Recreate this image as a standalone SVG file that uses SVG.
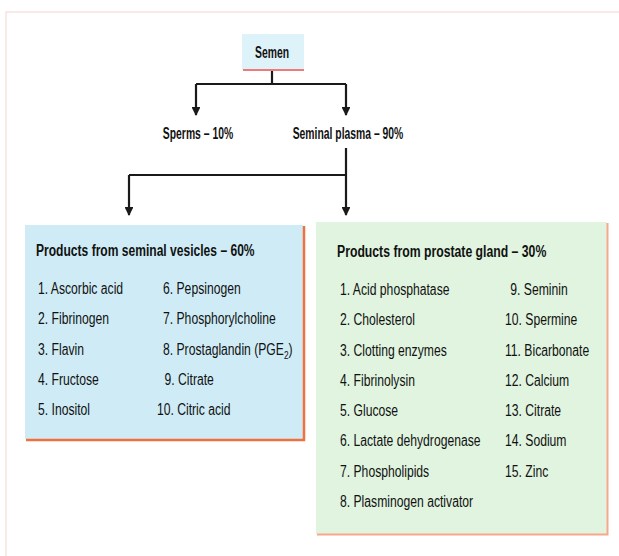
<svg xmlns="http://www.w3.org/2000/svg" width="619" height="556" viewBox="0 0 619 556">
<defs>
<style>
text{font-family:"Liberation Sans",Arial,sans-serif;fill:#111;}
.t{font-weight:bold;font-size:17px;}
.h{font-weight:bold;font-size:17px;}
.i{font-size:16px;}
.c{stroke:#1a1a1a;stroke-width:2.2;fill:none;}
</style>
<marker id="ah" viewBox="0 0 10 10" refX="9" refY="5" markerWidth="4" markerHeight="4" orient="auto" markerUnits="strokeWidth">
<path d="M0,0 L10,5 L0,10 z" fill="#1a1a1a"/>
</marker>
</defs>
<rect width="619" height="556" fill="#fff"/>
<path d="M6,556 V12 H619" fill="none" stroke="#f6e3dc" stroke-width="1.5"/>
<g id="connectors">
<path class="c" d="M272,70 V84"/>
<path class="c" d="M196,84 H346"/>
<path class="c" d="M196,84 V115" marker-end="url(#ah)"/>
<path class="c" d="M346,84 V115" marker-end="url(#ah)"/>
<path class="c" d="M346,148 V215" marker-end="url(#ah)"/>
<path class="c" d="M129,175 H346"/>
<path class="c" d="M129,175 V215" marker-end="url(#ah)"/>
</g>
<g id="semen">
<rect x="242" y="34" width="62" height="36" fill="#def3f9"/>
<line x1="243" y1="70" x2="304" y2="70" stroke="#ef7a7a" stroke-width="2"/>
<text class="h" transform="translate(272,58) scale(0.61,1)" text-anchor="middle">Semen</text>
</g>
<g id="sperms">
<text class="h" transform="translate(198,139) scale(0.61,1)" text-anchor="middle">Sperms – 10%</text>
</g>
<g id="plasma">
<text class="h" transform="translate(348,139) scale(0.61,1)" text-anchor="middle">Seminal plasma – 90%</text>
</g>
<g id="vesicles">
<rect x="25" y="225" width="278" height="214" fill="#cfecf6"/>
<path d="M26,440 H304 V226" fill="none" stroke="#f0703e" stroke-width="2.5"/>
<text class="t" transform="translate(36,256) scale(0.71,1)">Products from seminal vesicles – 60%</text>
<g transform="translate(38,0) scale(0.76,1)">
<text class="i" x="0" y="294">1. Ascorbic acid</text>
<text class="i" x="0" y="324">2. Fibrinogen</text>
<text class="i" x="0" y="355">3. Flavin</text>
<text class="i" x="0" y="385">4. Fructose</text>
<text class="i" x="0" y="415">5. Inositol</text>
</g>
<g transform="translate(163,0) scale(0.76,1)">
<text class="i" x="0" y="294">6. Pepsinogen</text>
<text class="i" x="0" y="324">7. Phosphorylcholine</text>
<text class="i" x="0" y="355">8. Prostaglandin (PGE<tspan font-size="11" dy="4">2</tspan><tspan dy="-4">)</tspan></text>
<text class="i" x="2" y="385">9. Citrate</text>
<text class="i" x="-8" y="415">10. Citric acid</text>
</g>
</g>
<g id="prostate">
<rect x="316" y="222" width="291" height="312" fill="#e0f4df"/>
<path d="M317,534.5 H607.5 V223" fill="none" stroke="#f5a88c" stroke-width="2"/>
<text class="t" transform="translate(337,257) scale(0.72,1)">Products from prostate gland – 30%</text>
<g transform="translate(340,0) scale(0.76,1)">
<text class="i" x="0" y="295">1. Acid phosphatase</text>
<text class="i" x="0" y="325">2. Cholesterol</text>
<text class="i" x="0" y="356">3. Clotting enzymes</text>
<text class="i" x="0" y="386">4. Fibrinolysin</text>
<text class="i" x="0" y="416">5. Glucose</text>
<text class="i" x="0" y="446">6. Lactate dehydrogenase</text>
<text class="i" x="0" y="477">7. Phospholipids</text>
<text class="i" x="0" y="507">8. Plasminogen activator</text>
</g>
<g transform="translate(505,0) scale(0.76,1)">
<text class="i" x="7" y="295">9. Seminin</text>
<text class="i" x="0" y="325">10. Spermine</text>
<text class="i" x="0" y="356">11. Bicarbonate</text>
<text class="i" x="0" y="386">12. Calcium</text>
<text class="i" x="0" y="416">13. Citrate</text>
<text class="i" x="0" y="446">14. Sodium</text>
<text class="i" x="0" y="477">15. Zinc</text>
</g>
</g>
</svg>
